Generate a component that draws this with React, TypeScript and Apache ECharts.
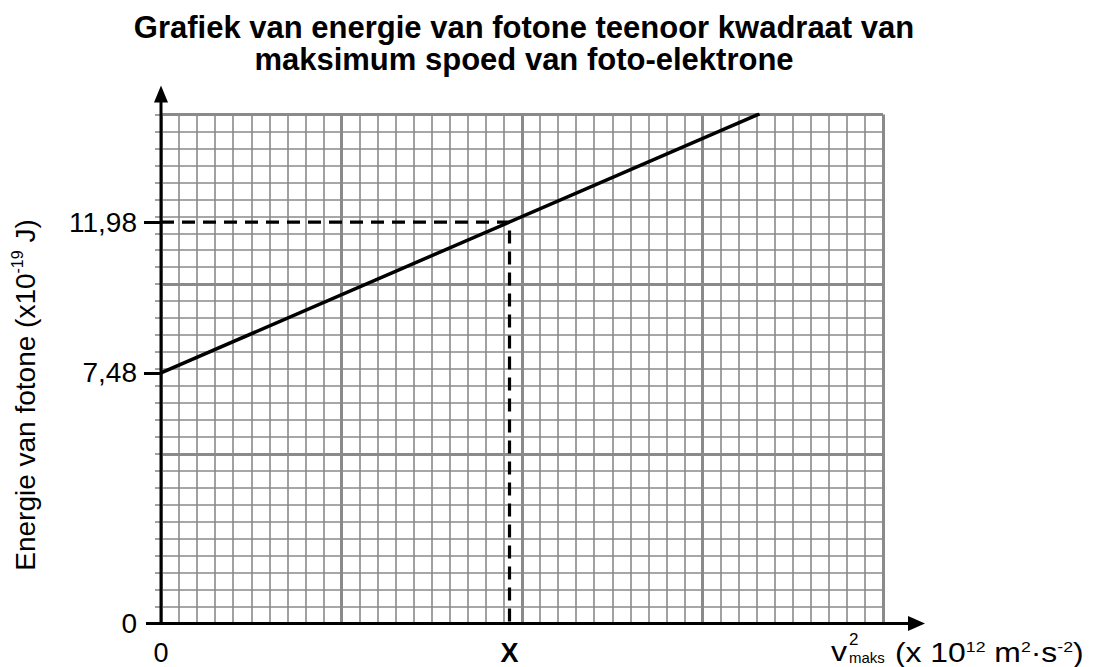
import React, { useEffect, useRef } from "react";
import * as echarts from "echarts";

const TITLE_LINES = [
  "Grafiek van energie van fotone teenoor kwadraat van",
  "maksimum spoed van foto-elektrone",
];
// v² in units of 10^12 m²·s⁻², energy in 10^-19 J
const LINE_X = [0, 1.7];
const LINE_Y = [7.48, 15.21];
const X_READ = 0.99; // the value labelled "X"
const Y_READ = 11.98;
const Y_TICKS = [0, 7.48, 11.98];
const X_TICKS = [0, X_READ];
const X_MAX = 2.051;
const Y_MAX = 15.19;
const PAPER_X_MAJORS = 4;
const PAPER_Y_MAJORS = 3;

const FONT = "'Liberation Sans', Arial, sans-serif";
const GRID_GREY = "#8a8a8a";

export default function App() {
  const ref = useRef<HTMLDivElement>(null);
  useEffect(() => {
    if (!ref.current) return;
    const chart = echarts.init(ref.current, null, { renderer: "svg" });
    const option: any = {
      animation: false,
      backgroundColor: "#fff",
      textStyle: { fontFamily: FONT },
      title: {
        text: TITLE_LINES.join("\n"),
        left: 524,
        textAlign: "center",
        top: 11,
        padding: 0,
        textStyle: {
          fontFamily: FONT,
          fontWeight: "bold",
          fontSize: 31,
          lineHeight: 32,
          color: "#000",
        },
      },
      grid: { left: 161, top: 114.5, right: 216, bottom: 43.5 },
      xAxis: [
        {
          type: "value",
          min: 0,
          max: X_MAX,
          position: "bottom",
          axisLine: { show: false },
          splitLine: { show: false },
          axisTick: { show: false },
          axisLabel: {
            customValues: X_TICKS,
            margin: 16,
            fontSize: 27,
            fontFamily: FONT,
            color: "#000",
            formatter: (v: number) => (v === 0 ? "0" : "{b|X}"),
            rich: { b: { fontWeight: "bold", fontSize: 27, fontFamily: FONT, color: "#000" } },
          },
        },
        {
          type: "value",
          min: 0,
          max: PAPER_X_MAJORS,
          interval: 1,
          position: "bottom",
          axisLine: { show: false },
          axisLabel: { show: false },
          axisTick: { show: false },
          minorTick: { show: false, splitNumber: 10 },
          splitLine: { show: true, lineStyle: { color: GRID_GREY, width: 3 } },
          minorSplitLine: { show: true, lineStyle: { color: GRID_GREY, width: 1.6 } },
        },
      ],
      yAxis: [
        {
          type: "value",
          min: 0,
          max: Y_MAX,
          position: "left",
          name: "Energie van fotone (x10{sup|-19} J)",
          nameLocation: "middle",
          nameRotate: 90,
          nameGap: 120,
          nameTextStyle: {
            fontFamily: FONT,
            fontSize: 28,
            lineHeight: 32,
            color: "#000",
            padding: [0, 52, 0, 0],
            rich: { sup: { fontSize: 16, verticalAlign: "top", lineHeight: 32, fontFamily: FONT, color: "#000" } },
          },
          axisLine: { show: false },
          splitLine: { show: false },
          axisTick: {
            show: true,
            customValues: [7.48, 11.98],
            length: 17,
            lineStyle: { color: "#000", width: 3 },
          },
          axisLabel: {
            customValues: Y_TICKS,
            margin: 24,
            fontSize: 28,
            fontFamily: FONT,
            color: "#000",
            formatter: (v: number) => String(v).replace(".", ","),
          },
        },
        {
          type: "value",
          min: 0,
          max: PAPER_Y_MAJORS,
          interval: 1,
          position: "left",
          axisLine: { show: false },
          axisLabel: { show: false },
          axisTick: { show: true, length: 6, lineStyle: { color: GRID_GREY, width: 1.6 } },
          minorTick: { show: true, splitNumber: 10, length: 6, lineStyle: { color: GRID_GREY, width: 1.6 } },
          splitLine: { show: true, lineStyle: { color: GRID_GREY, width: 3 } },
          minorSplitLine: { show: true, lineStyle: { color: GRID_GREY, width: 1.6 } },
        },
      ],
      series: [
        {
          name: "Energie",
          type: "line",
          xAxisIndex: 0,
          yAxisIndex: 0,
          data: LINE_X.map((x, i) => [x, LINE_Y[i]]),
          symbol: "none",
          lineStyle: { color: "#000", width: 3.5 },
          z: 5,
        },
        {
          name: "Aflesing",
          type: "line",
          xAxisIndex: 0,
          yAxisIndex: 0,
          data: [
            [0, Y_READ],
            [X_READ, Y_READ],
            [X_READ, 0],
          ],
          symbol: "none",
          lineStyle: { color: "#000", width: 3.2, type: [13, 8] },
          z: 4,
        },
      ],
    };
    chart.setOption(option);

    const o = chart.convertToPixel({ xAxisIndex: 0, yAxisIndex: 0 }, [0, 0]) as number[];
    const tr = chart.convertToPixel({ xAxisIndex: 0, yAxisIndex: 0 }, [X_MAX, Y_MAX]) as number[];
    const ox = o[0];
    const oy = o[1];
    const right = tr[0];
    const top = tr[1];
    const xs = { fontFamily: FONT, fill: "#000", align: "left", verticalAlign: "middle" };
    chart.setOption({
      graphic: [
        { type: "line", z: 100, shape: { x1: ox, y1: oy + 1.5, x2: ox, y2: top - 14 }, style: { stroke: "#000", lineWidth: 3 } },
        { type: "polygon", z: 100, shape: { points: [[ox, top - 29], [ox - 7, top - 12], [ox + 7, top - 12]] }, style: { fill: "#000" } },
        { type: "line", z: 100, shape: { x1: ox - 15, y1: oy, x2: right + 27, y2: oy }, style: { stroke: "#000", lineWidth: 3 } },
        { type: "polygon", z: 100, shape: { points: [[right + 42, oy], [right + 25, oy - 7.5], [right + 25, oy + 7.5]] }, style: { fill: "#000" } },
        { type: "text", z: 100, x: right - 52, y: oy + 28, scaleX: 1.15, style: { ...xs, text: "v", fontSize: 28, lineHeight: 28 } },
        { type: "text", z: 100, x: right - 34, y: oy + 16, style: { ...xs, text: "2", fontSize: 17, lineHeight: 17 } },
        { type: "text", z: 100, x: right - 34, y: oy + 34, style: { ...xs, text: "maks", fontSize: 15, lineHeight: 15 } },
        {
          type: "text",
          z: 100,
          x: right + 12,
          y: oy + 29,
          scaleX: 1.18,
          style: {
            ...xs,
            text: "(x 10{s|12} m{s|2}·s{s|-2})",
            fontSize: 27,
            lineHeight: 27,
            rich: { s: { fontSize: 15, verticalAlign: "top", lineHeight: 27, fontFamily: FONT, fill: "#000" } },
          },
        },
      ],
    });

    return () => chart.dispose();
  }, []);
  return <div ref={ref} style={{ position: "fixed", left: 0, top: 0, width: 1099, height: 667 }} />;
}
